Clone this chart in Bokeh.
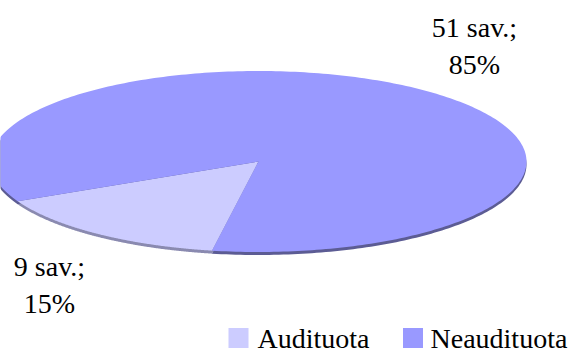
import numpy as np
from bokeh.plotting import figure
from bokeh.models import Range1d, ColumnDataSource, LabelSet
from bokeh.core.properties import value
from bokeh.embed import file_html
from bokeh.resources import INLINE

# ---- data ----
categories = ["Audituota", "Neaudituota"]
counts = [9, 51]
count_labels = ["9 sav.;", "51 sav.;"]
percent_labels = ["15%", "85%"]
colors = ["#CCCCFF", "#9999FF"]
side_colors = ["#8A8AB0", "#5C5C94"]

# ---- layout ----
W, H = 576, 353
cx, cy, a, b = 258.0, 161.0, 268.0, 90.5
depth = 3.0
start_deg = 260.0
label_x = [49, 474]
label_y1 = [275, 36]
label_y2 = [312, 73]
legend_sq_x = [238, 412.5]
legend_txt_x = [257, 430]
legend_sq_y = 337.5
legend_txt_y = 347
FONT = value("Liberation Serif")
FSIZE = value("28px")

p = figure(width=W, height=H, x_range=Range1d(0, W), y_range=Range1d(H, 0),
           output_backend="svg", toolbar_location=None, min_border=0)
p.axis.visible = False
p.grid.visible = False
p.outline_line_color = None
p.background_fill_color = "white"
p.border_fill_color = "white"

total = float(sum(counts))
cum = np.concatenate([[0.0], np.cumsum(counts) / total])

def slice_poly(i, dy=0.0):
    th = np.radians(np.linspace(start_deg - cum[i] * 360, start_deg - cum[i + 1] * 360, 300))
    xs = np.concatenate([[cx], cx + a * np.cos(th)])
    ys = np.concatenate([[cy], cy - b * np.sin(th)]) + dy
    return xs, ys

# side (depth) of the pie
for i in range(len(counts)):
    xs, ys = slice_poly(i, depth)
    p.patch(xs, ys, fill_color=side_colors[i], line_color=None)
# top surface
for i in range(len(counts)):
    xs, ys = slice_poly(i)
    p.patch(xs, ys, fill_color=colors[i], line_color=None)

src = ColumnDataSource(dict(x=label_x, y1=label_y1, y2=label_y2,
                            t1=count_labels, t2=percent_labels))
for ycol, tcol in (("y1", "t1"), ("y2", "t2")):
    p.add_layout(LabelSet(x="x", y=ycol, text=tcol, source=src, text_font=FONT,
                          text_font_size=FSIZE, text_align="center",
                          text_baseline="alphabetic", text_color="black"))

# legend
p.scatter(x=legend_sq_x, y=[legend_sq_y] * 2, marker="square", size=20,
          fill_color=colors, line_color=None)
lsrc = ColumnDataSource(dict(x=legend_txt_x, y=[legend_txt_y] * 2, t=categories))
p.add_layout(LabelSet(x="x", y="y", text="t", source=lsrc, text_font=FONT,
                      text_font_size=FSIZE, text_align="left",
                      text_baseline="alphabetic", text_color="black"))

open("out.html", "w").write(file_html(p, INLINE))
